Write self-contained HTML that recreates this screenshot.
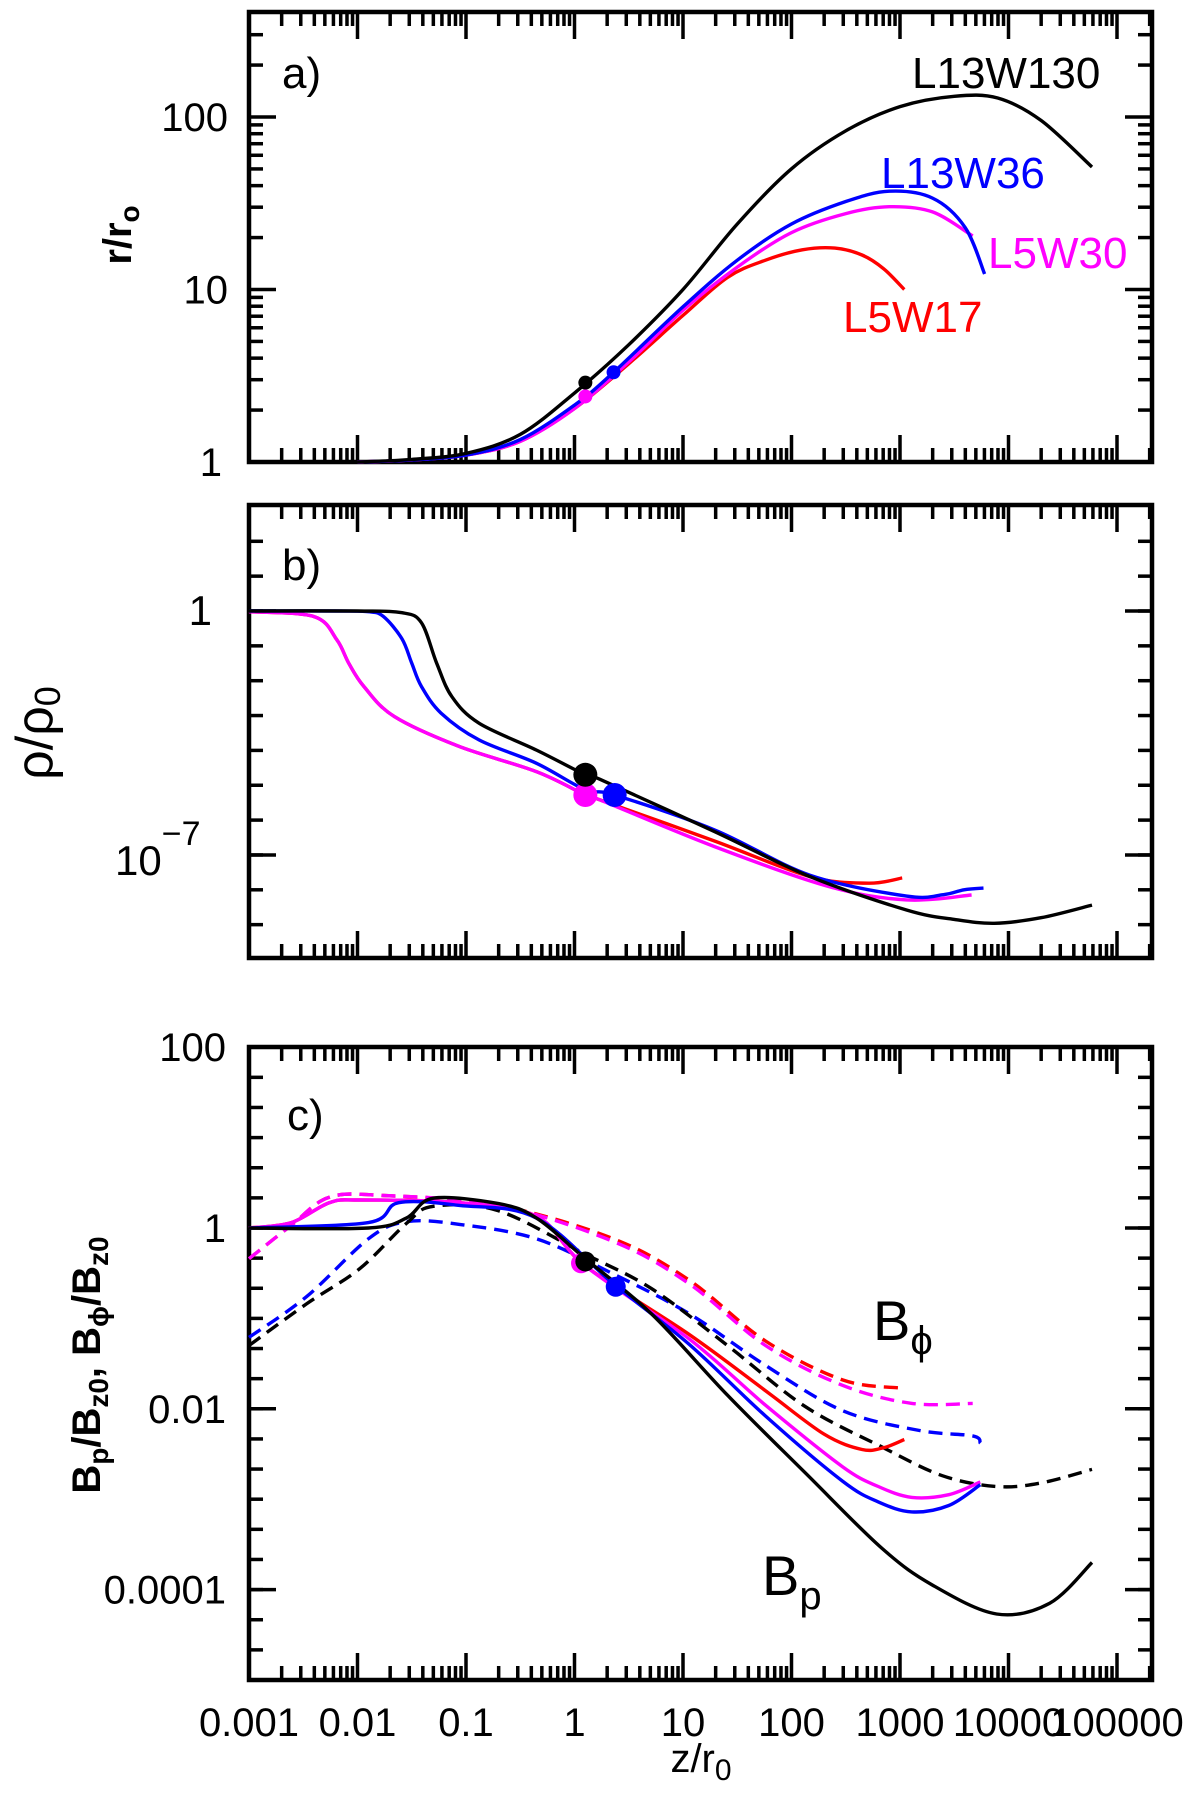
<!DOCTYPE html>
<html><head><meta charset="utf-8">
<style>
html,body{margin:0;padding:0;background:#fff;}
svg{display:block;}
text{font-family:"Liberation Sans",sans-serif;fill:#000;}
</style></head>
<body>
<svg id="chart" width="1200" height="1795" viewBox="0 0 1200 1795" xmlns="http://www.w3.org/2000/svg">
<g id="axes"></g>
<g id="marks"></g>
<g id="labels"></g>
</svg>
<script>
// ---- data (log10 values) ----
const xTickLabels = ["0.001","0.01","0.1","1","10","100","1000","10000","100000"];
const xTickLogs = [-3,-2,-1,0,1,2,3,4,5];

// Panel a: r/r0
const aBlackLz = [-2,-1.5,-1,-0.5,0,0.5,1,1.5,2,2.5,3,3.5,3.9,4.3,4.77];
const aBlackLy = [0,0.015,0.05,0.16,0.40,0.68,1.0,1.38,1.70,1.92,2.06,2.12,2.11,1.98,1.71];
const aBlueLz = [-2,-1.5,-1,-0.5,0,0.36,1,1.5,2,2.5,2.9,3.3,3.6,3.78];
const aBlueLy = [0,0.012,0.04,0.13,0.33,0.52,0.90,1.17,1.38,1.51,1.57,1.53,1.36,1.09];
const aMagLz = [-2,-1.5,-1,-0.5,0,0.5,1,1.5,2,2.5,2.9,3.3,3.67];
const aMagLy = [0,0.012,0.04,0.12,0.31,0.58,0.88,1.13,1.33,1.44,1.48,1.45,1.31];
const aRedLz = [-2,-1.5,-1,-0.5,0,0.5,1,1.41,1.76,2.1,2.4,2.65,2.85,3.04];
const aRedLy = [0,0.012,0.04,0.12,0.31,0.57,0.85,1.07,1.17,1.23,1.24,1.20,1.12,1.0];
const aDotLz = [0.1,0.36,0.1];
const aDotLy = [0.46,0.52,0.38];
const aDotColors = ["#000000","#0000ff","#ff00ff"];

// Panel b: rho/rho0
const bBlackLz = [-3,-2,-1.59,-1.41,-1.27,-1.13,-0.88,-0.35,0.1,0.235,1.29,2.17,3.06,3.5,3.87,4.3,4.77];
const bBlackLy = [0,0,-0.05,-0.34,-1.5,-2.46,-3.22,-3.99,-4.7,-4.83,-6.33,-7.62,-8.58,-8.85,-8.96,-8.8,-8.44];
const bBlueLz = [-3,-2.2,-1.9,-1.76,-1.59,-1.5,-1.41,-1.23,-0.88,-0.35,0.1,0.37,1.29,2.17,3.06,3.4,3.59,3.77];
const bBlueLy = [0,0,-0.02,-0.16,-0.8,-1.5,-2.17,-2.93,-3.7,-4.37,-5.13,-5.28,-6.28,-7.58,-8.18,-8.14,-8.0,-7.95];
const bMagLz = [-3,-2.4,-2.19,-2.08,-1.94,-1.66,-1.06,-0.35,0.1,0.235,1.29,2.35,3.06,3.66];
const bMagLy = [-0.02,-0.16,-0.83,-1.5,-2.17,-3.03,-3.89,-4.61,-5.28,-5.42,-6.76,-7.91,-8.29,-8.15];
const bRedLz = [-3,-2.4,-2.19,-2.08,-1.94,-1.66,-1.06,-0.35,0.1,0.235,1.29,2.17,2.71,3.02];
const bRedLy = [-0.02,-0.16,-0.83,-1.5,-2.17,-3.03,-3.89,-4.61,-5.28,-5.42,-6.6,-7.62,-7.81,-7.66];
const bDotLz = [0.1,0.37,0.1];
const bDotLy = [-5.28,-5.28,-4.7];
const bDotColors = ["#ff00ff","#0000ff","#000000"];

// Panel c: B fields
const cBpBlackLz = [-3,-1.9,-1.55,-1.3,-0.7,-0.35,0.1,0.71,1.41,2.12,2.83,3.3,3.89,4.38,4.77];
const cBpBlackLy = [0,0,0.11,0.33,0.27,0.11,-0.34,-0.95,-1.85,-2.7,-3.54,-3.95,-4.27,-4.15,-3.7];
const cBpBlueLz = [-3,-1.9,-1.62,-1.06,-0.35,0.36,1.06,1.76,2.47,2.8,3.11,3.45,3.74];
const cBpBlueLy = [0,0.06,0.28,0.25,0.11,-0.62,-1.29,-2.08,-2.8,-3.03,-3.14,-3.07,-2.84];
const cBpMagLz = [-3,-2.61,-2.26,-1.98,-1.06,-0.35,0.1,1.06,1.76,2.47,2.8,3.11,3.45,3.74];
const cBpMagLy = [0,0.06,0.28,0.31,0.28,0.13,-0.42,-1.23,-1.96,-2.64,-2.86,-2.98,-2.95,-2.81];
const cBpRedLz = [-3,-2.61,-2.26,-1.98,-1.06,-0.35,0.1,1.06,1.76,2.3,2.65,2.85,3.04];
const cBpRedLy = [0,0.06,0.28,0.31,0.28,0.13,-0.42,-1.18,-1.8,-2.28,-2.45,-2.43,-2.34];
const cBfBlackLz = [-3,-2.47,-1.98,-1.55,-1.3,-0.7,0.1,0.71,1.41,2.12,2.83,3.39,3.89,4.3,4.77];
const cBfBlackLy = [-1.3,-0.84,-0.45,0.05,0.24,0.19,-0.29,-0.67,-1.3,-1.97,-2.42,-2.74,-2.86,-2.82,-2.67];
const cBfBlueLz = [-3,-2.47,-1.9,-1.55,-1.06,-0.35,0.36,1.06,1.76,2.47,3.18,3.67,3.74];
const cBfBlueLy = [-1.21,-0.76,-0.12,0.07,0.04,-0.12,-0.51,-0.95,-1.52,-2.02,-2.24,-2.3,-2.38];
const cBfMagLz = [-3,-2.61,-2.26,-1.76,-0.7,0.36,1.06,1.76,2.47,3.11,3.67];
const cBfMagLy = [-0.34,0.03,0.34,0.36,0.25,-0.15,-0.62,-1.3,-1.74,-1.94,-1.94];
const cBfRedLz = [-3,-2.61,-2.26,-1.76,-0.7,0.36,1.06,1.76,2.47,3.0];
const cBfRedLy = [-0.34,0.03,0.34,0.36,0.25,-0.12,-0.58,-1.25,-1.68,-1.77];
const cDotLz = [0.06,0.38,0.1];
const cDotLy = [-0.39,-0.65,-0.37];
const cDotColors = ["#ff00ff","#0000ff","#000000"];

// ---- axis functions ----
const X0 = 249, XR = 1152, DEC = 108.5;
function xs(lz){ return X0 + (lz + 3) * DEC; }
const panels = {
  a:{top:12,bottom:462,y0:462,dec:172.5},
  b:{top:505,bottom:958,y0:611,dec:34.85},
  c:{top:1047,bottom:1680,y0:1228,dec:90.4}
};
function ys(p, l){ return panels[p].y0 - l * panels[p].dec; }

const NS = "http://www.w3.org/2000/svg";
const axesG = document.getElementById('axes');
const marksG = document.getElementById('marks');
const labelsG = document.getElementById('labels');

function mk(tag, attrs, parent){
  const e = document.createElementNS(NS, tag);
  for (const k in attrs) e.setAttribute(k, attrs[k]);
  parent.appendChild(e);
  return e;
}

function smoothPath(pts){
  let d = "M" + pts[0][0].toFixed(1) + "," + pts[0][1].toFixed(1);
  for (let i = 0; i < pts.length - 1; i++){
    const p0 = pts[i-1] || pts[i], p1 = pts[i], p2 = pts[i+1], p3 = pts[i+2] || p2;
    const c1x = p1[0] + (p2[0]-p0[0])/6, c1y = p1[1] + (p2[1]-p0[1])/6;
    const c2x = p2[0] - (p3[0]-p1[0])/6, c2y = p2[1] - (p3[1]-p1[1])/6;
    d += " C" + c1x.toFixed(1)+","+c1y.toFixed(1)+" "+c2x.toFixed(1)+","+c2y.toFixed(1)+" "+p2[0].toFixed(1)+","+p2[1].toFixed(1);
  }
  return d;
}

function drawLine(p, lzArr, lyArr, color, name, dashed){
  const pts = lzArr.map((v,i)=>[xs(v), ys(p, lyArr[i])]);
  const el = mk('path', {d:smoothPath(pts), fill:'none', stroke:color, 'stroke-width':3.4,
    'stroke-linejoin':'round', 'stroke-linecap':'butt'}, marksG);
  if (dashed) el.setAttribute('stroke-dasharray','14 8');
  
  
}

function drawDots(p, lzArr, lyArr, colors, r, prefix){
  lzArr.forEach((v,i)=>{
    const c = mk('circle', {cx:xs(v), cy:ys(p, lyArr[i]), r:r, fill:colors[i]}, marksG);
    
    
  });
}

function drawFrame(p, yMajor, yMinor){
  const P = panels[p];
  const r = mk('rect', {x:X0, y:P.top, width:XR-X0, height:P.bottom-P.top, fill:'none', stroke:'#000', 'stroke-width':4.5}, axesG);
  
  
  for (let d = -3; d <= 5; d++){
    for (let m = 1; m <= 9; m++){
      const lz = d + Math.log10(m);
      const x = xs(lz);
      if (x > XR - 2) continue;
      const len = (m === 1) ? 27 : 14;
      const t1 = mk('line', {x1:x, x2:x, y1:P.bottom, y2:P.bottom-len, stroke:'#000', 'stroke-width':3.5}, axesG);
      
      
      const t2 = mk('line', {x1:x, x2:x, y1:P.top, y2:P.top+len, stroke:'#000', 'stroke-width':3.5}, axesG);
      
      
    }
  }
  const all = yMajor.map(v=>[v,27]).concat(yMinor.map(v=>[v,14]));
  all.forEach(([l,len])=>{
    const y = ys(p, l);
    if (y < P.top + 2 || y > P.bottom - 2) return;
    const t1 = mk('line', {x1:X0, x2:X0+len, y1:y, y2:y, stroke:'#000', 'stroke-width':3.5}, axesG);
    
    
    const t2 = mk('line', {x1:XR, x2:XR-len, y1:y, y2:y, stroke:'#000', 'stroke-width':3.5}, axesG);
    
    
  });
}

function txt(x, y, s, size, anchor, name, extra){
  const t = mk('text', Object.assign({x:x, y:y, 'font-size':size, 'text-anchor':anchor||'start'}, extra||{}), labelsG);
  t.textContent = s;
  
  
  return t;
}

// ---- Panel a ----
const aMinor = [];
for (let d = 0; d <= 2; d++) for (let m = 2; m <= 9; m++) aMinor.push(d + Math.log10(m));
drawFrame('a', [0,1,2], aMinor);
drawLine('a', aRedLz, aRedLy, '#ff0000', 'a-line-l5w17');
drawLine('a', aMagLz, aMagLy, '#ff00ff', 'a-line-l5w30');
drawLine('a', aBlueLz, aBlueLy, '#0000ff', 'a-line-l13w36');
drawLine('a', aBlackLz, aBlackLy, '#000000', 'a-line-l13w130');
drawDots('a', aDotLz, aDotLy, aDotColors, 7, 'a');
txt(228, ys('a',2)+14, "100", 40, 'end', 'a-y-tick-label-100');
txt(228, ys('a',1)+14, "10", 40, 'end', 'a-y-tick-label-10');
txt(222, ys('a',0)+14, "1", 40, 'end', 'a-y-tick-label-1');
txt(282, 88, "a)", 44, 'start', 'panel-a-label');
txt(912, 88, "L13W130", 44, 'start', 'legend-l13w130');
txt(881, 188, "L13W36", 44, 'start', 'legend-l13w36', {style:'fill:#0000ff'});
txt(988, 268, "L5W30", 44, 'start', 'legend-l5w30', {style:'fill:#ff00ff'});
txt(843, 332, "L5W17", 44, 'start', 'legend-l5w17', {style:'fill:#ff0000'});
{
  const t = txt(0, 0, "", 40, 'middle', 'a-y-axis-title', {'font-weight':'bold', transform:'translate(131,235) rotate(-90)'});
  t.innerHTML = 'r/r<tspan font-size="28" dy="8">o</tspan>';
}

// ---- Panel b ----
const bMinor = [];
for (let d = -10; d <= 3; d++) bMinor.push(d);
drawFrame('b', [0,-7], bMinor);
drawLine('b', bRedLz, bRedLy, '#ff0000', 'b-line-l5w17');
drawLine('b', bMagLz, bMagLy, '#ff00ff', 'b-line-l5w30');
drawLine('b', bBlueLz, bBlueLy, '#0000ff', 'b-line-l13w36');
drawLine('b', bBlackLz, bBlackLy, '#000000', 'b-line-l13w130');
drawDots('b', bDotLz, bDotLy, bDotColors, 12, 'b');
txt(212, ys('b',0)+14, "1", 42, 'end', 'b-y-tick-label-1');
{
  const t = txt(115, ys('b',-7)+20, "", 42, 'start', 'b-y-tick-label-1e-7');
  t.innerHTML = '10<tspan font-size="34" dy="-30">−7</tspan>';
}
txt(282, 580, "b)", 44, 'start', 'panel-b-label');
{
  const t = txt(0, 0, "", 52, 'middle', 'b-y-axis-title', {transform:'translate(52,733) rotate(-90)'});
  t.innerHTML = 'ρ/ρ<tspan font-size="36" dy="8">0</tspan>';
}

// ---- Panel c ----
const cMinor = [];
for (let i = -15; i <= 6; i++) cMinor.push(i/3);
drawFrame('c', [2,0,-2,-4], cMinor);
drawLine('c', cBfBlueLz, cBfBlueLy, '#0000ff', 'c-bphi-l13w36', true);
drawLine('c', cBfBlackLz, cBfBlackLy, '#000000', 'c-bphi-l13w130', true);
drawLine('c', cBfRedLz, cBfRedLy, '#ff0000', 'c-bphi-l5w17', true);
drawLine('c', cBfMagLz, cBfMagLy, '#ff00ff', 'c-bphi-l5w30', true);
drawLine('c', cBpRedLz, cBpRedLy, '#ff0000', 'c-bp-l5w17');
drawLine('c', cBpMagLz, cBpMagLy, '#ff00ff', 'c-bp-l5w30');
drawLine('c', cBpBlueLz, cBpBlueLy, '#0000ff', 'c-bp-l13w36');
drawLine('c', cBpBlackLz, cBpBlackLy, '#000000', 'c-bp-l13w130');
drawDots('c', cDotLz, cDotLy, cDotColors, 10, 'c');
txt(226, ys('c',2)+14, "100", 40, 'end', 'c-y-tick-label-100');
txt(226, ys('c',0)+14, "1", 40, 'end', 'c-y-tick-label-1');
txt(226, ys('c',-2)+14, "0.01", 40, 'end', 'c-y-tick-label-0.01');
txt(226, ys('c',-4)+14, "0.0001", 40, 'end', 'c-y-tick-label-0.0001');
xTickLabels.forEach((s,i)=>{
  txt(xs(xTickLogs[i]), 1736, s, 40, 'middle', 'x-tick-label-' + s);
});
{
  const t = txt(701, 1772, "", 40, 'middle', 'x-axis-title');
  t.innerHTML = 'z/r<tspan font-size="30" dy="8">0</tspan>';
}
txt(287, 1130, "c)", 44, 'start', 'panel-c-label');
{
  const t = txt(873, 1340, "", 56, 'start', 'bphi-label');
  t.innerHTML = 'B<tspan font-size="40" dy="14">ϕ</tspan>';
}
{
  const t = txt(762, 1595, "", 56, 'start', 'bp-label');
  t.innerHTML = 'B<tspan font-size="40" dy="14">p</tspan>';
}
{
  const t = txt(0, 0, "", 40, 'middle', 'c-y-axis-title', {'font-weight':'bold', transform:'translate(100,1365) rotate(-90)'});
  t.innerHTML = 'B<tspan font-size="28" dy="8">p</tspan><tspan dy="-8">/B</tspan><tspan font-size="28" dy="8">z0</tspan><tspan dy="-8">,  B</tspan><tspan font-size="28" dy="8">ϕ</tspan><tspan dy="-8">/B</tspan><tspan font-size="28" dy="8">z0</tspan>';
}
</script>
</body></html>
